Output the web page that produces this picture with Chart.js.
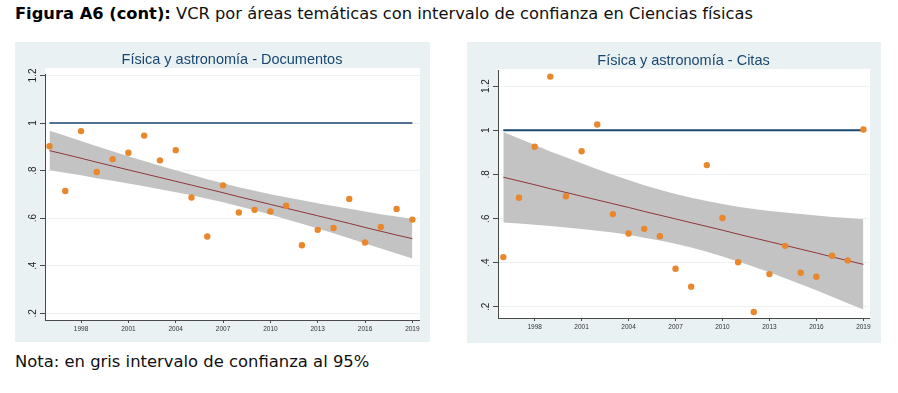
<!DOCTYPE html>
<html><head><meta charset="utf-8">
<script src="https://cdn.jsdelivr.net/npm/chart.js@4.4.0/dist/chart.umd.min.js"></script>
<style>
body{margin:0;background:#fff;width:898px;height:393px;overflow:hidden;font-family:"DejaVu Sans",Verdana,sans-serif;position:relative}
#hdr{position:absolute;left:15px;top:4px;font-size:16.3px;line-height:19px;color:#111;white-space:nowrap}
#hdr b{color:#000}
#note{position:absolute;left:15px;top:352px;font-size:16.4px;line-height:19px;color:#111;white-space:nowrap}
.panel{position:absolute;background:#eaf1f3}
canvas{display:block}
</style></head>
<body>
<div id="hdr"><b>Figura A6 (cont):</b> VCR por áreas temáticas con intervalo de confianza en Ciencias físicas</div>
<div class="panel" style="left:15px;top:42px;width:415px;height:300px"><canvas id="c1" width="415" height="300"></canvas></div>
<div class="panel" style="left:467px;top:42px;width:414px;height:301px"><canvas id="c2" width="414" height="301"></canvas></div>
<div id="note">Nota: en gris intervalo de confianza al 95%</div>
<script>
const years = [1996,1997,1998,1999,2000,2001,2002,2003,2004,2005,2006,2007,2008,2009,2010,2011,2012,2013,2014,2015,2016,2017,2018,2019];

const docsValues = [0.902,0.714,0.966,0.794,0.848,0.875,0.947,0.843,0.886,0.687,0.523,0.738,0.624,0.635,0.628,0.652,0.486,0.551,0.559,0.681,0.498,0.563,0.639,0.594];
const docsFit    = [0.884,0.868,0.852,0.835,0.819,0.803,0.787,0.771,0.755,0.739,0.723,0.707,0.690,0.674,0.658,0.642,0.626,0.610,0.594,0.578,0.561,0.545,0.529,0.514];
const docsUpper  = [0.967,0.946,0.924,0.902,0.881,0.860,0.840,0.820,0.801,0.782,0.764,0.747,0.730,0.715,0.701,0.688,0.675,0.663,0.651,0.640,0.628,0.617,0.607,0.597];
const docsLower  = [0.801,0.791,0.780,0.768,0.757,0.746,0.734,0.722,0.709,0.696,0.682,0.667,0.650,0.633,0.615,0.596,0.577,0.557,0.537,0.516,0.494,0.473,0.452,0.431];

const citasValues = [0.425,0.694,0.925,1.243,0.701,0.905,1.026,0.620,0.532,0.553,0.520,0.372,0.291,0.842,0.602,0.402,0.176,0.348,0.476,0.354,0.336,0.431,0.410,1.003];
const citasFit    = [0.787,0.770,0.753,0.735,0.718,0.701,0.684,0.667,0.650,0.632,0.615,0.598,0.581,0.564,0.547,0.529,0.512,0.495,0.478,0.461,0.444,0.426,0.409,0.392];
const citasUpper  = [0.992,0.963,0.934,0.904,0.877,0.850,0.823,0.798,0.774,0.751,0.730,0.711,0.694,0.679,0.666,0.653,0.643,0.634,0.627,0.620,0.613,0.607,0.602,0.597];
const citasLower  = [0.582,0.577,0.572,0.566,0.559,0.552,0.545,0.536,0.526,0.513,0.500,0.485,0.468,0.449,0.428,0.405,0.381,0.356,0.329,0.302,0.275,0.245,0.216,0.187];

const refValue = 1;
const xTickValues = [1998,2001,2004,2007,2010,2013,2016,2019];
const yTickValues = [0.2,0.4,0.6,0.8,1,1.2];
const yTickLabels = [".2",".4",".6",".8","1","1.2"];

const NAVY = '#1a476f', MAROON = '#90353b', ORANGE = '#e8872b', BAND = '#c3c3c3', AXIS = '#4a4a4a';

function pts(ys){ return years.map((x,i)=>({x:x,y:ys[i]})); }

const panelPlugin = {
  id:'panelDeco',
  beforeDraw(chart, args, o){
    const a = chart.chartArea, ctx = chart.ctx;
    ctx.save();
    ctx.fillStyle = '#ffffff';
    ctx.fillRect(a.left, a.top - o.whiteTop, a.right - a.left + 1, a.bottom - a.top + o.whiteTop);
    ctx.restore();
  },
  afterDraw(chart, args, o){
    const a = chart.chartArea, ctx = chart.ctx, ys = chart.scales.y;
    ctx.save();
    ctx.fillStyle = NAVY;
    ctx.font = '14.5px "Liberation Sans", Arial, sans-serif';
    ctx.textAlign = 'center'; ctx.textBaseline = 'middle';
    ctx.fillText(o.title, (a.left + a.right)/2, o.titleY);
    ctx.fillStyle = '#222';
    ctx.font = '10px "Liberation Sans", Arial, sans-serif';
    yTickValues.forEach((v,i)=>{
      const py = ys.getPixelForValue(v);
      ctx.save();
      ctx.translate(a.left - 12, py);
      ctx.rotate(-Math.PI/2);
      ctx.fillText(yTickLabels[i], 0, 0);
      ctx.restore();
    });
    ctx.restore();
  }
};

function makeChart(id, cfg){
  return new Chart(document.getElementById(id), {
    type:'scatter',
    data:{datasets:[
      {label:'obs', data:pts(cfg.values), showLine:false, pointRadius:3.2, pointHoverRadius:3.2, pointBackgroundColor:ORANGE, pointBorderWidth:0, backgroundColor:ORANGE},
      {label:'fit', data:pts(cfg.fit), showLine:true, borderColor:MAROON, borderWidth:1, pointRadius:0},
      {label:'ref', data:[{x:years[0],y:refValue},{x:years[years.length-1],y:refValue}], showLine:true, borderColor:NAVY, borderWidth:cfg.refW, pointRadius:0},
      {label:'upper', data:pts(cfg.upper), showLine:true, borderWidth:0, borderColor:'rgba(0,0,0,0)', pointRadius:0, fill:'+1', backgroundColor:BAND, tension:0},
      {label:'lower', data:pts(cfg.lower), showLine:true, borderWidth:0, borderColor:'rgba(0,0,0,0)', pointRadius:0, fill:false}
    ]},
    options:{
      responsive:false, animation:false, devicePixelRatio:1,
      layout:{padding:{left:0, right:cfg.padR, top:cfg.padT, bottom:0}},
      plugins:{legend:{display:false}, tooltip:{enabled:false}, title:{display:false},
        panelDeco:{title:cfg.title, titleY:cfg.titleY, whiteTop:cfg.whiteTop}},
      scales:{
        x:{type:'linear', min:cfg.xMin, max:cfg.xMax,
          afterBuildTicks:s=>{s.ticks = xTickValues.map(v=>({value:v}));},
          afterFit:s=>{s.height = cfg.xH;},
          ticks:{autoSkip:false, maxRotation:0, minRotation:0, padding:2, color:'#333', font:{family:'"Liberation Sans", Arial, sans-serif', size:6.5}, callback:v=>String(v)},
          grid:{drawOnChartArea:false, drawTicks:true, tickLength:3, tickColor:AXIS},
          border:{display:true, color:AXIS, width:1}},
        y:{type:'linear', min:cfg.yMin, max:cfg.yMax,
          afterBuildTicks:s=>{s.ticks = yTickValues.map(v=>({value:v}));},
          afterFit:s=>{s.width = cfg.yW;},
          ticks:{display:false},
          grid:{drawOnChartArea:true, color:'#edf2f4', lineWidth:1, drawTicks:true, tickLength:5, tickColor:AXIS},
          border:{display:true, color:AXIS, width:1}}
      }
    },
    plugins:[panelPlugin]
  });
}

makeChart('c1', {title:'Física y astronomía - Documentos', values:docsValues, fit:docsFit, upper:docsUpper, lower:docsLower,
  xMin:1995.715, xMax:2019.42, yMin:0.172, yMax:1.206, padR:11, padT:32, xH:22, yW:30, titleY:18, whiteTop:6, refW:1.3});
makeChart('c2', {title:'Física y astronomía - Citas', values:citasValues, fit:citasFit, upper:citasUpper, lower:citasLower,
  xMin:1995.66, xMax:2019.36, yMin:0.149, yMax:1.273, padR:12, padT:28, xH:25, yW:31, titleY:19, whiteTop:1, refW:2});
</script>
</body></html>
